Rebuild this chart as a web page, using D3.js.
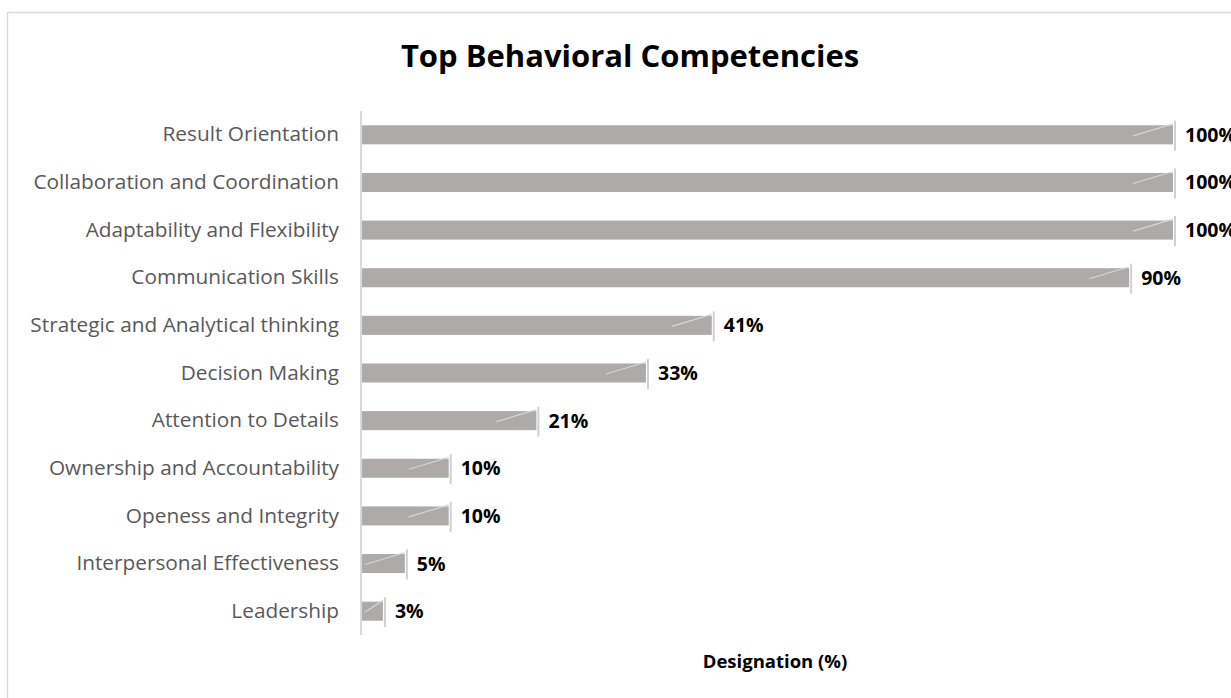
<!DOCTYPE html>
<html><head><meta charset="utf-8">
<script src="https://cdn.jsdelivr.net/npm/d3@7/dist/d3.min.js"></script>
<style>body{margin:0;background:#fff;}svg{display:block;}</style>
</head><body>
<svg id="chart" width="1231" height="698"></svg>
<script>
const categories = ["Result Orientation","Collaboration and Coordination","Adaptability and Flexibility","Communication Skills","Strategic and Analytical thinking","Decision Making","Attention to Details","Ownership and Accountability","Openess and Integrity","Interpersonal Effectiveness","Leadership"];
const values = [100, 100, 100, 94.6, 43.2, 35.1, 21.6, 10.8, 10.8, 5.4, 2.7];
const valueLabels = ["100%","100%","100%","90%","41%","33%","21%","10%","10%","5%","3%"];
const title = "Top Behavioral Competencies";
const axisTitle = "Designation (%)";

const svg = d3.select("#chart");
const font = "'Open Sans', sans-serif";

// chart area border
svg.append("rect").attr("x",7.5).attr("y",12.5).attr("width",1300).attr("height",800)
  .attr("fill","none").attr("stroke","#d9d9d9").attr("stroke-width",1.5);

const x = d3.scaleLinear().domain([0,100]).range([361,1173]);
const y = d3.scaleBand().domain(categories).range([111,635]).paddingInner(0.6).paddingOuter(0.3);

svg.append("text").attr("x",630).attr("y",67).attr("text-anchor","middle")
  .attr("font-family",font).attr("font-weight","bold").attr("font-size",31).attr("fill","#000").text(title);

// bars
svg.selectAll(".bar").data(categories).enter().append("rect")
  .attr("x",x(0)).attr("y",d=>y(d)).attr("height",y.bandwidth())
  .attr("width",(d,i)=>x(values[i])-x(0)).attr("fill","#aeaaaa");

// end markers
categories.forEach((c,i)=>{
  const xe = x(values[i]);
  const cy = y(c)+y.bandwidth()/2;
  svg.append("line").attr("x1",xe+2).attr("x2",xe+2).attr("y1",cy-14).attr("y2",cy+16)
    .attr("stroke","#d0d0d0").attr("stroke-width",2);
  const len = Math.min(40, x(values[i])-x(0)-4);
  svg.append("line").attr("x1",xe-len).attr("y1",cy+1).attr("x2",xe).attr("y2",cy-11)
    .attr("stroke","#d6d6d6").attr("stroke-width",1.2);
  svg.append("text").attr("x",xe+12).attr("y",cy+7)
    .attr("font-family",font).attr("font-weight","bold").attr("font-size",19.5).attr("fill","#000")
    .text(valueLabels[i]);
});

// y axis
const yAxis = d3.axisLeft(y).tickSize(0).tickPadding(22);
const g = svg.append("g").attr("transform","translate(361,0)").call(yAxis);
g.select(".domain").attr("stroke","#d9d9d9").attr("stroke-width",2).attr("d","M0,111V635");
g.selectAll("text").attr("font-family",font).attr("font-size",20.8).attr("fill","#595959");

svg.append("text").attr("x",775).attr("y",668).attr("text-anchor","middle")
  .attr("font-family",font).attr("font-weight","bold").attr("font-size",18.5).attr("fill","#000").text(axisTitle);
</script>
</body></html>
